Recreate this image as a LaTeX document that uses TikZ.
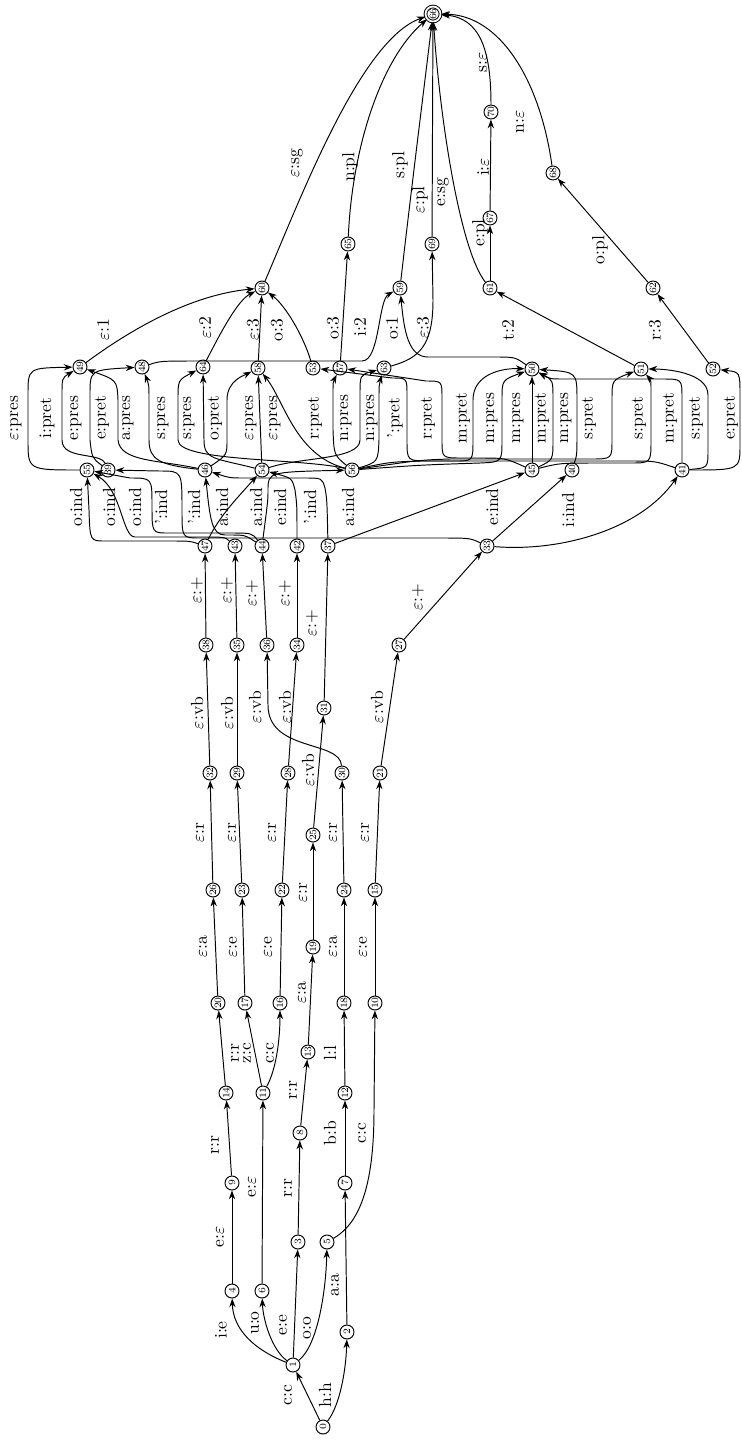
\documentclass[tikz,border=0pt]{standalone}
\usepackage{amssymb,amsmath}
\usetikzlibrary{arrows.meta}

\newcommand{\eps}{$\varepsilon$}

\tikzset{
  st/.style={circle, draw, line width=0.55pt, inner sep=0pt, minimum size=0.28cm,
    font=\fontsize{5.5}{6}\selectfont, rotate=90},
  fin/.style={st, double, double distance=1pt, minimum size=0.3cm},
  lbl/.style={rotate=90, inner sep=0pt},
  tr/.style={->, >={Stealth[length=5pt, width=3.6pt]}, line width=0.55pt}
}

\begin{document}
\begin{tikzpicture}[x=0.02cm, y=-0.02cm]
\useasboundingbox (0,0) rectangle (742,1441);

% states
\node[st] (q0) at (323,1427) {0};
\node[st] (q1) at (293,1365) {1};
\node[st] (q2) at (347,1332) {2};
\node[st] (q4) at (232,1291) {4};
\node[st] (q6) at (262,1291) {6};
\node[st] (q3) at (298,1242) {3};
\node[st] (q5) at (327,1242) {5};
\node[st] (q9) at (232,1183) {9};
\node[st] (q7) at (345,1183) {7};
\node[st] (q8) at (300,1133) {8};
\node[st] (q14) at (226,1093) {14};
\node[st] (q11) at (263,1093) {11};
\node[st] (q12) at (345,1093) {12};
\node[st] (q13) at (308,1052) {13};
\node[st] (q20) at (218,1003) {20};
\node[st] (q17) at (245,1003) {17};
\node[st] (q16) at (280,1003) {16};
\node[st] (q18) at (344,1003) {18};
\node[st] (q10) at (375,1003) {10};
\node[st] (q19) at (313,947) {19};
\node[st] (q26) at (213,890) {26};
\node[st] (q23) at (242,890) {23};
\node[st] (q22) at (282,890) {22};
\node[st] (q24) at (344,890) {24};
\node[st] (q15) at (375,890) {15};
\node[st] (q25) at (313,835) {25};
\node[st] (q32) at (210,773) {32};
\node[st] (q29) at (237,773) {29};
\node[st] (q28) at (288,773) {28};
\node[st] (q30) at (342,773) {30};
\node[st] (q21) at (380,773) {21};
\node[st] (q31) at (324,708) {31};
\node[st] (q38) at (206,645) {38};
\node[st] (q35) at (237,645) {35};
\node[st] (q36) at (267,645) {36};
\node[st] (q34) at (297,645) {34};
\node[st] (q27) at (399,645) {27};
\node[st] (q47) at (205,546) {47};
\node[st] (q43) at (235,546) {43};
\node[st] (q44) at (262,546) {44};
\node[st] (q42) at (297,546) {42};
\node[st] (q37) at (328,546) {37};
\node[st] (q33) at (487,546) {33};
\node[st] (q55) at (87,470) {55};
\node[st] (q39) at (108,470) {39};
\node[st] (q46) at (205,470) {46};
\node[st] (q54) at (262,470) {54};
\node[st] (q56) at (352,470) {56};
\node[st] (q45) at (532,470) {45};
\node[st] (q40) at (572,470) {40};
\node[st] (q41) at (682,470) {41};
\node[st] (q49) at (80,367) {49};
\node[st] (q48) at (142,367) {48};
\node[st] (q64) at (203,367) {64};
\node[st] (q58) at (258,368) {58};
\node[st] (q53) at (313,368) {53};
\node[st] (q57) at (340,368) {57};
\node[st] (q63) at (384,368) {63};
\node[st] (q50) at (532,369) {50};
\node[st] (q51) at (641,369) {51};
\node[st] (q52) at (713,369) {52};
\node[st] (q60) at (262,288) {60};
\node[st] (q59) at (400,288) {59};
\node[st] (q61) at (490,288) {61};
\node[st] (q62) at (653,288) {62};
\node[st] (q65) at (348,244) {65};
\node[st] (q69) at (432,244) {69};
\node[st] (q67) at (490,218) {67};
\node[st] (q68) at (553,173) {68};
\node[st] (q70) at (491,112) {70};
\node[fin] (q66) at (433,14) {66};

% stems
\draw[tr] (q0) -- (q1) node[lbl] at (288,1395) {c:c};
\draw[tr] (q0) .. controls (340,1405) and (346,1370) .. (q2) node[lbl] at (325,1395) {h:h};
\draw[tr] (q1) .. controls (255,1350) and (233,1330) .. (q4) node[lbl] at (221,1330) {i:e};
\draw[tr] (q1) .. controls (272,1350) and (263,1320) .. (q6) node[lbl] at (255,1323) {u:o};
\draw[tr] (q1) -- (q3) node[lbl] at (283,1325) {e:e};
\draw[tr] (q1) .. controls (318,1345) and (326,1290) .. (q5) node[lbl] at (307,1328) {o:o};
\draw[tr] (q2) -- (q7) node[lbl] at (335,1285) {a:a};
\draw[tr] (q4) -- (q9) node[lbl] at (220,1237) {e:\eps};
\draw[tr] (q6) -- (q11) node[lbl] at (252,1187) {e:\eps};
\draw[tr] (q3) -- (q8) node[lbl] at (288,1188) {r:r};
\draw[tr] (q7) -- (q12) node[lbl] at (330,1133) {b:b};
\draw[tr] (q5) .. controls (362,1222) and (374,1180) .. (374,1110) -- (q10) node[lbl] at (362,1133) {c:c};
\draw[tr] (q9) -- (q14) node[lbl] at (215,1145) {r:r};
\draw[tr] (q8) -- (q13) node[lbl] at (293,1090) {r:r};
\draw[tr] (q14) -- (q20) node[lbl] at (235,1053) {r:r};
\draw[tr] (q11) -- (q17) node[lbl] at (247,1053) {z:c};
\draw[tr] (q11) .. controls (276,1070) and (280,1040) .. (q16) node[lbl] at (270,1053) {c:c};
\draw[tr] (q12) -- (q18) node[lbl] at (330,1053) {l:l};

% thematic vowel and r
\draw[tr] (q20) -- (q26) node[lbl] at (203,947) {\eps:a};
\draw[tr] (q17) -- (q23) node[lbl] at (233,947) {\eps:e};
\draw[tr] (q16) -- (q22) node[lbl] at (268,947) {\eps:e};
\draw[tr] (q13) -- (q19) node[lbl] at (302,993) {\eps:a};
\draw[tr] (q18) -- (q24) node[lbl] at (333,947) {\eps:a};
\draw[tr] (q10) -- (q15) node[lbl] at (363,947) {\eps:e};
\draw[tr] (q26) -- (q32) node[lbl] at (200,833) {\eps:r};
\draw[tr] (q23) -- (q29) node[lbl] at (232,833) {\eps:r};
\draw[tr] (q22) -- (q28) node[lbl] at (272,833) {\eps:r};
\draw[tr] (q19) -- (q25) node[lbl] at (303,893) {\eps:r};
\draw[tr] (q24) -- (q30) node[lbl] at (333,833) {\eps:r};
\draw[tr] (q15) -- (q21) node[lbl] at (365,833) {\eps:r};

% vb and +
\draw[tr] (q32) -- (q38) node[lbl] at (197,713) {\eps:vb};
\draw[tr] (q29) -- (q35) node[lbl] at (227,713) {\eps:vb};
\draw[tr] (q30) .. controls (340,740) and (268,752) .. (268,705) -- (q36) node[lbl] at (255,707) {\eps:vb};
\draw[tr] (q28) -- (q34) node[lbl] at (285,707) {\eps:vb};
\draw[tr] (q25) -- (q31) node[lbl] at (308,770) {\eps:vb};
\draw[tr] (q21) -- (q27) node[lbl] at (377,707) {\eps:vb};
\draw[tr] (q38) -- (q47) node[lbl] at (197,590) {\eps:+};
\draw[tr] (q35) -- (q43) node[lbl] at (227,590) {\eps:+};
\draw[tr] (q36) -- (q44) node[lbl] at (252,593) {\eps:+};
\draw[tr] (q34) -- (q42) node[lbl] at (285,593) {\eps:+};
\draw[tr] (q31) -- (q37) node[lbl] at (312,623) {\eps:+};
\draw[tr] (q27) -- (q33) node[lbl] at (418,597) {\eps:+};

% mood
\draw[tr] (q47) .. controls (190,541) .. (170,541) -- (105,541) .. controls (90,541) .. (89,510) -- (q55) node[lbl] at (76,507) {o:ind};
\draw[tr] (q43) .. controls (225,537) .. (200,537) -- (135,537) .. controls (122,537) and (122,490) .. (q55) node[lbl] at (109,507) {o:ind};
\draw[tr] (q44) .. controls (252,533) .. (230,533) -- (168,533) .. controls (152,533) .. (152,505) .. controls (152,478) .. (130,478) -- (q55) node[lbl] at (135,507) {o:ind};
\draw[tr] (q33) .. controls (470,538) .. (440,538) -- (200,538) .. controls (182,538) .. (182,510) .. controls (182,471) .. (160,471) -- (q39) node[lbl] at (161,507) {’:ind};
\draw[tr] (q44) .. controls (245,535) .. (230,535) -- (225,535) .. controls (212,535) and (210,520) .. (q46) node[lbl] at (194,507) {’:ind};
\draw[tr] (q37) .. controls (327,500) .. (325,488) .. controls (322,478) .. (305,478) -- (245,478) .. controls (230,478) .. (q46) node[lbl] at (310,507) {’:ind};
\draw[tr] (q47) .. controls (220,515) and (240,495) .. (q54) node[lbl] at (222,507) {a:ind};
\draw[tr] (q42) .. controls (297,505) .. (295,490) .. controls (292,478) .. (q54) node[lbl] at (280,507) {e:ind};
\draw[tr] (q44) .. controls (268,500) .. (268,490) .. controls (268,472) .. (q56) node[lbl] at (256,507) {a:ind};
\draw[tr] (q37) -- (q45) node[lbl] at (348,507) {a:ind};
\draw[tr] (q33) -- (q40) node[lbl] at (492,507) {e:ind};
\draw[tr] (q33) .. controls (560,552) and (640,530) .. (q41) node[lbl] at (568,510) {i:ind};

% tense
\draw[tr] (q55) .. controls (28,470) .. (28,440) -- (28,395) .. controls (28,368) .. (q49) node[lbl] at (16,418) {\eps:pres};
\draw[tr] (q39) .. controls (100,452) and (62,460) .. (62,440) -- (62,395) .. controls (62,378) .. (q49) node[lbl] at (47,418) {i:pret};
\draw[tr] (q39) .. controls (92,458) .. (90,440) -- (90,395) .. controls (90,370) .. (q48) node[lbl] at (76,418) {e:pres};
\draw[tr] (q46) .. controls (160,460) and (120,462) .. (118,440) -- (118,400) .. controls (117,380) .. (q49) node[lbl] at (102,418) {e:pret};
\draw[tr] (q46) .. controls (160,465) and (149,460) .. (149,440) -- (149,400) .. controls (149,385) .. (q48) node[lbl] at (128,418) {a:pres};
\draw[tr] (q56) .. controls (300,458) and (178,462) .. (178,440) -- (178,400) .. controls (178,380) .. (q64) node[lbl] at (163,418) {s:pres};
\draw[tr] (q54) .. controls (215,458) and (204,460) .. (204,440) -- (q64) node[lbl] at (189,418) {s:pres};
\draw[tr] (q46) .. controls (227,455) .. (227,440) -- (227,400) .. controls (227,380) and (245,375) .. (q58) node[lbl] at (215,418) {o:pret};
\draw[tr] (q54) -- (q58) node[lbl] at (251,418) {\eps:pres};
\draw[tr] (q56) .. controls (295,455) and (284,400) .. (q58) node[lbl] at (275,418) {\eps:pres};
\draw[tr] (q56) .. controls (334,455) .. (333,430) -- (333,395) .. controls (333,382) .. (q57) node[lbl] at (315,418) {r:pret};
\draw[tr] (q54) .. controls (300,457) and (360,460) .. (360,440) -- (360,395) .. controls (360,375) .. (q63) node[lbl] at (346,418) {n:pres};
\draw[tr] (q56) .. controls (378,462) .. (379,440) -- (379,400) .. controls (379,385) .. (q63) node[lbl] at (372,418) {n:pres};
\draw[tr] (q41) .. controls (655,461) .. (630,461) -- (430,461) .. controls (407,461) .. (407,440) -- (407,395) .. controls (407,378) .. (392,378) -- (q53) node[lbl] at (395,418) {’:pret};
\draw[tr] (q45) .. controls (505,458) .. (480,458) -- (462,458) .. controls (442,458) .. (442,440) -- (442,398) .. controls (442,381) .. (426,381) -- (q57) node[lbl] at (428,418) {r:pret};
\draw[tr] (q56) .. controls (390,462) .. (420,461) -- (455,461) .. controls (473,461) .. (473,440) -- (473,400) .. controls (473,375) and (500,368) .. (q50) node[lbl] at (463,418) {m:pret};
\draw[tr] (q56) .. controls (420,465) .. (480,463) .. controls (502,462) .. (502,440) -- (502,400) .. controls (502,380) .. (q50) node[lbl] at (492,418) {m:pres};
\draw[tr] (q45) -- (q50) node[lbl] at (518,418) {m:pres};
\draw[tr] (q45) .. controls (553,460) .. (553,440) -- (553,400) .. controls (553,380) .. (q50) node[lbl] at (542,418) {m:pret};
\draw[tr] (q40) .. controls (577,455) .. (577,430) -- (577,400) .. controls (577,372) .. (q50) node[lbl] at (566,418) {m:pres};
\draw[tr] (q56) .. controls (420,460) .. (450,459) -- (590,459) .. controls (612,459) .. (612,440) -- (612,400) .. controls (612,380) .. (q51) node[lbl] at (589,418) {s:pret};
\draw[tr] (q45) .. controls (560,463) .. (600,463) -- (630,463) .. controls (651,463) .. (651,440) -- (651,395) .. controls (651,380) .. (q51) node[lbl] at (639,418) {s:pret};
\draw[tr] (q41) -- (682,398) .. controls (682,379) .. (662,379) -- (565,379) .. controls (550,379) .. (q50) node[lbl] at (670,418) {m:pret};
\draw[tr] (q41) .. controls (708,468) .. (708,450) -- (708,395) .. controls (708,372) and (665,369) .. (q51) node[lbl] at (696,418) {s:pret};
\draw[tr] (q41) .. controls (740,470) .. (740,445) -- (740,395) .. controls (740,372) .. (q52) node[lbl] at (731,418) {e:pret};

% person
\draw[tr] (q49) .. controls (130,330) and (190,295) .. (q60) node[lbl] at (103,330) {\eps:1};
\draw[tr] (q64) .. controls (222,330) and (238,300) .. (q60) node[lbl] at (205,328) {\eps:2};
\draw[tr] (q58) -- (q60) node[lbl] at (253,330) {\eps:3};
\draw[tr] (q53) .. controls (303,335) and (285,305) .. (q60) node[lbl] at (277,330) {o:3};
\draw[tr] (q57) -- (q65) node[lbl] at (333,328) {o:3};
\draw[tr] (q48) .. controls (160,361) .. (200,361) -- (362,361) .. controls (380,361) and (378,300) .. (q59) node[lbl] at (360,327) {i:2};
\draw[tr] (q50) .. controls (515,357) .. (495,357) -- (428,357) .. controls (408,357) and (404,330) .. (q59) node[lbl] at (392,328) {o:1};
\draw[tr] (q63) .. controls (420,358) and (433,345) .. (433,300) -- (q69) node[lbl] at (423,328) {\eps:3};
\draw[tr] (q51) -- (q61) node[lbl] at (508,330) {t:2};
\draw[tr] (q52) -- (q62) node[lbl] at (655,330) {r:3};

% number
\draw[tr] (q60) .. controls (300,200) and (360,40) .. (q66) node[lbl] at (297,163) {\eps:sg};
\draw[tr] (q65) .. controls (352,150) and (380,60) .. (q66) node[lbl] at (350,167) {n:pl};
\draw[tr] (q59) .. controls (410,200) and (425,80) .. (q66) node[lbl] at (400,165) {s:pl};
\draw[tr] (q69) -- (q66) node[lbl] at (420,200) {\eps:pl};
\draw[tr] (q61) .. controls (460,250) and (440,120) .. (q66) node[lbl] at (443,192) {e:sg};
\draw[tr] (q61) -- (q67) node[lbl] at (480,233) {e:pl};
\draw[tr] (q67) -- (q70) node[lbl] at (483,167) {i:\eps};
\draw[tr] (q70) .. controls (491,50) and (480,18) .. (q66) node[lbl] at (483,62) {s:\eps};
\draw[tr] (q62) -- (q68) node[lbl] at (600,250) {o:pl};
\draw[tr] (q68) .. controls (540,80) and (500,15) .. (q66) node[lbl] at (520,122) {n:\eps};
\end{tikzpicture}
\end{document}
